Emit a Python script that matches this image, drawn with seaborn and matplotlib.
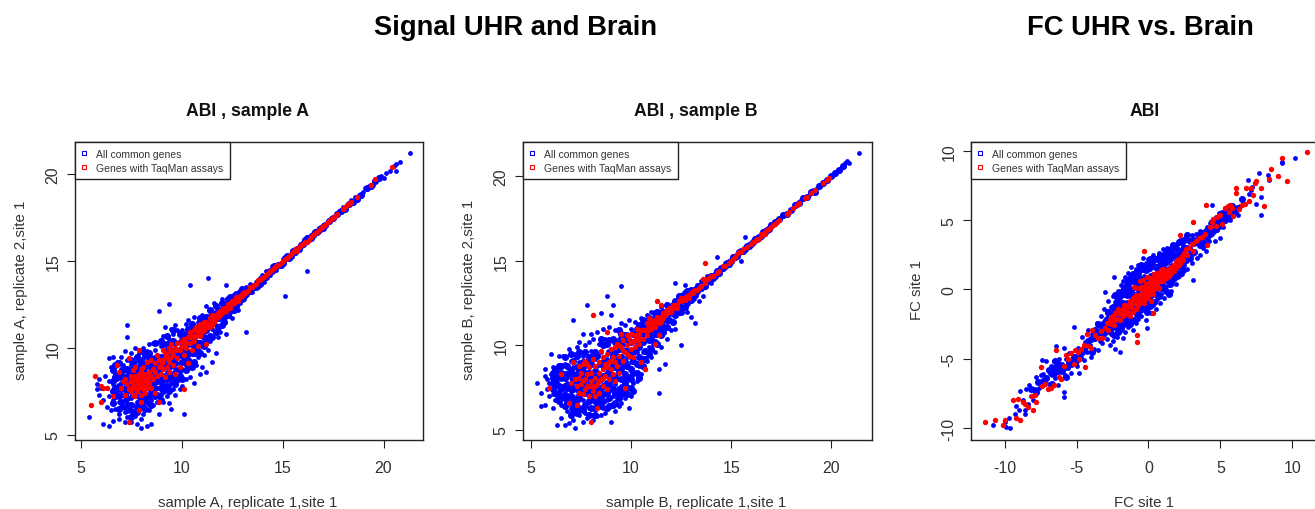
import matplotlib
matplotlib.use("Agg")
import matplotlib.pyplot as plt
from matplotlib.lines import Line2D
import seaborn as sns

A_BLUE_X = [5.4,5.8,5.8,5.9,5.9,6.0,6.1,6.1,6.2,6.3,6.3,6.4,
6.4,6.4,6.4,6.5,6.5,6.6,6.6,6.6,6.6,6.7,6.7,6.8,
6.8,6.8,6.9,6.9,6.9,7.0,7.0,7.0,7.0,7.0,7.1,7.1,
7.2,7.2,7.2,7.2,7.2,7.3,7.3,7.3,7.3,7.3,7.3,7.4,
7.4,7.5,7.5,7.5,7.5,7.5,7.5,7.6,7.6,7.7,7.7,7.7,
7.7,7.7,7.8,7.8,7.8,7.9,7.9,7.9,7.9,8.0,8.0,8.0,
8.0,8.0,8.1,8.1,8.1,8.1,8.2,8.2,8.2,8.3,8.3,8.3,
8.3,8.4,8.4,8.4,8.5,8.5,8.5,8.5,8.6,8.6,8.6,8.7,
8.7,8.7,8.8,8.8,8.8,8.9,8.9,8.9,8.9,9.0,9.0,9.0,
9.1,9.1,9.1,9.2,9.2,9.2,9.3,9.3,9.3,9.4,9.4,9.4,
9.5,9.5,9.5,9.6,9.6,9.6,9.7,9.7,9.7,9.8,9.8,9.8,
9.9,9.9,9.9,10.0,10.0,10.0,10.1,10.1,10.1,10.2,10.2,10.2,
10.3,10.3,10.4,10.4,10.4,10.5,10.5,10.6,10.6,10.6,10.7,10.7,
10.8,10.8,10.9,10.9,11.0,11.0,11.0,11.1,11.1,11.2,11.2,11.3,
11.3,11.4,11.4,11.5,11.5,11.6,11.7,11.7,11.8,11.8,11.9,12.0,
12.0,12.1,12.2,12.2,12.3,12.4,12.5,12.6,12.7,12.8,12.9,13.0,
13.1,13.2,13.2,13.3,13.4,13.5,13.6,13.7,13.8,13.9,14.0,14.1,
14.2,14.4,14.5,14.7,14.9,15.0,15.1,15.2,15.4,15.6,15.8,16.0,
16.2,16.2,16.4,16.6,16.8,17.0,17.2,17.4,17.6,17.8,18.0,18.2,
18.4,18.6,18.8,19.0,19.1,19.3,19.5,19.7,19.9,20.0,20.1,20.3,
20.5,20.6,20.6,20.8,21.3,
8.2,8.4,8.6,8.8,9.0,9.2,9.4,9.6,9.8,10.0,10.2,10.4]
A_BLUE_Y = [6.0,7.6,7.9,8.2,7.3,7.7,5.6,7.0,8.4,7.7,6.6,9.4,
8.1,7.2,5.5,8.9,6.4,9.5,7.9,7.0,5.8,8.5,6.5,9.2,
8.2,7.5,6.9,6.2,5.9,9.5,8.8,8.0,7.3,6.6,9.0,7.7,
5.7,6.3,7.0,8.4,9.8,11.3,10.6,9.3,8.0,6.8,6.0,7.5,
8.7,9.7,9.0,8.2,7.1,6.4,5.7,7.8,6.7,10.0,9.3,8.6,
7.4,6.1,5.6,8.0,6.9,9.7,9.0,7.6,6.4,5.4,5.9,6.7,
8.3,7.1,9.4,10.0,8.7,6.2,7.8,7.3,6.9,5.5,9.1,9.8,
8.2,6.4,7.6,10.2,7.0,8.6,9.5,5.6,10.3,6.7,7.4,8.0,
9.0,9.9,6.9,7.7,10.3,6.2,8.4,9.4,12.1,7.3,8.8,10.1,
6.9,8.0,10.7,7.6,9.2,11.2,7.2,8.6,9.9,12.5,6.8,10.5,
6.5,8.0,11.1,7.6,9.3,10.8,7.3,8.7,11.3,8.1,9.7,11.0,
7.6,9.1,10.4,7.8,8.8,11.0,6.2,9.4,10.1,8.2,9.0,11.4,
9.6,11.6,13.6,8.3,10.6,9.2,11.1,8.0,10.0,11.8,9.0,10.4,
9.5,11.5,8.5,10.8,8.9,10.1,11.9,9.6,11.2,8.6,12.4,14.0,
9.9,10.4,11.9,9.2,11.1,12.6,9.7,11.3,10.6,12.3,10.9,12.8,
11.6,12.1,13.6,10.8,12.2,12.6,11.7,12.4,12.9,12.2,12.6,13.2,
12.8,10.9,13.5,13.2,13.7,13.2,13.6,13.8,13.5,14.0,14.2,13.8,
14.4,14.2,14.7,14.5,14.9,15.1,13.0,15.1,15.4,15.6,15.8,16.1,
14.4,16.1,16.5,16.6,16.9,17.1,17.2,17.5,17.6,17.9,18.1,18.2,
18.5,18.7,18.8,19.0,19.2,19.3,19.4,19.7,19.9,19.8,20.1,20.2,
20.5,20.6,20.2,20.7,21.2,
8.6,9.0,8.5,9.2,7.9,9.9,7.8,8.4,8.8,9.6,10.5,9.8]
A_BLUE2_X = [6.6,6.7,6.6,6.7,6.6,6.7,6.6,6.7,
6.9,7.0,6.9,7.0,6.9,7.0,6.9,7.0,6.9,
7.2,7.3,7.2,7.3,7.2,7.3,7.2,7.3,7.2,7.3,
7.5,7.6,7.5,7.6,7.5,7.6,7.5,7.6,7.5,7.6,7.5,
7.8,7.9,7.8,7.9,7.8,7.9,7.8,7.9,7.8,7.9,7.8,
8.1,8.2,8.1,8.2,8.1,8.2,8.1,8.2,8.1,8.2,8.1,
8.4,8.5,8.4,8.5,8.4,8.5,8.4,8.5,8.4,8.5,8.4,
8.7,8.8,8.7,8.8,8.7,8.8,8.7,8.8,8.7,8.8,8.7,
9.0,9.1,9.0,9.1,9.0,9.1,9.0,9.1,9.0,9.1,9.0,
9.3,9.4,9.3,9.4,9.3,9.4,9.3,9.4,9.3,9.4,9.3,
9.6,9.7,9.6,9.7,9.6,9.7,9.6,9.7,9.6,9.7,9.6,
9.9,10.0,9.9,10.0,9.9,10.0,9.9,10.0,9.9,10.0,
10.2,10.3,10.2,10.3,10.2,10.3,10.2,10.3,10.2,10.3,
10.5,10.6,10.5,10.6,10.5,10.6,10.5,10.6,10.5,
10.8,10.9,10.8,10.9,10.8,10.9,10.8,10.9,
11.1,11.2,11.1,11.2,11.1,11.2,11.1,11.2,
11.4,11.5,11.4,11.5,11.4,11.5,11.4,
11.7,11.8,11.7,11.8,11.7,11.8,11.7,
12.0,12.1,12.0,12.1,12.0,12.1,12.0,
12.3,12.4,12.3,12.4,12.3,12.4,
12.6,12.7,12.6,12.7,12.6,12.7,
12.9,13.0,12.9,13.0,13.1,13.2,
13.3,13.4,13.5,13.6,13.7,13.8,
13.9,14.0,14.1,14.2,14.3,14.4,
14.5,14.6,14.7,14.8,14.9,15.0,
15.1,15.2,15.3,15.4,15.5,15.6,
15.7,15.8,15.9,16.0,16.1,16.2,
16.3,16.4,16.5,16.6,16.7,16.8,
16.9,17.0,17.1,17.3,17.5,17.7,
17.9,18.1,18.3,18.5,18.7,18.9,
19.2,19.4,19.6,19.8]
A_BLUE2_Y = [6.8,7.2,7.5,7.7,8.1,8.3,8.7,9.0,
6.5,6.9,7.2,7.6,7.8,8.3,8.5,8.6,9.1,
6.6,6.4,7.3,7.1,7.7,7.6,8.1,8.4,8.8,8.8,
6.7,6.3,7.5,7.3,7.9,8.2,8.6,8.8,9.3,9.1,6.0,
6.3,6.9,6.6,7.2,7.3,8.0,7.7,8.5,8.7,9.3,9.5,
6.6,6.5,7.2,7.1,7.5,8.2,8.3,8.9,9.1,9.6,9.8,
6.8,6.7,7.2,7.4,7.9,8.0,8.4,8.9,9.3,9.2,9.7,
7.2,7.3,7.7,8.1,8.4,8.7,8.7,9.0,9.4,9.5,10.3,
7.0,7.5,7.7,8.4,8.1,9.0,9.1,9.4,9.5,10.2,10.4,
7.8,7.5,8.2,8.3,9.0,8.9,9.5,9.6,10.2,10.0,10.7,
8.1,7.9,8.5,8.3,9.0,9.1,9.6,9.5,10.4,10.3,11.0,
8.4,8.2,8.7,9.2,9.6,10.0,9.9,10.3,10.8,10.7,
8.7,8.9,9.4,9.3,9.8,10.2,10.4,10.5,10.8,11.1,
8.9,9.2,9.7,9.7,10.2,10.3,10.7,10.9,11.4,
9.8,9.7,10.3,10.3,10.8,11.0,11.2,11.7,
10.1,10.4,10.6,11.0,11.0,11.3,11.5,11.8,
10.7,10.6,11.3,11.5,11.6,11.9,12.2,
10.9,11.2,11.7,11.7,12.0,12.0,12.4,
11.3,11.5,11.9,12.5,12.2,11.8,12.6,
11.9,12.1,12.5,12.3,12.8,12.9,
12.2,12.4,12.6,12.7,13.0,13.1,
12.9,12.8,13.2,13.4,13.0,13.1,
13.4,13.3,13.5,13.5,13.5,13.8,
13.7,14.0,14.1,14.1,14.3,14.4,
14.4,14.7,14.7,14.8,14.8,14.9,
15.2,15.3,15.2,15.3,15.6,15.5,
15.7,15.7,15.9,16.0,16.2,16.3,
16.3,16.3,16.5,16.7,16.7,16.8,
16.9,16.9,17.1,17.3,17.5,17.7,
17.9,18.0,18.3,18.4,18.6,18.8,
19.2,19.3,19.6,19.8]
A_RED_X = [5.5,5.7,6.0,6.0,6.1,6.3,6.6,6.8,6.9,7.0,
7.1,7.2,7.2,7.3,7.4,7.4,7.4,7.5,7.5,7.5,
7.6,7.6,7.6,7.7,7.7,7.7,7.7,7.8,7.8,7.8,
7.9,7.9,7.9,7.9,8.0,8.0,8.0,8.0,8.0,8.1,
8.1,8.1,8.2,8.2,8.2,8.3,8.3,8.3,8.4,8.4,
8.5,8.5,8.6,8.6,8.7,8.7,8.8,8.8,8.9,8.9,
9.0,9.0,9.1,9.1,9.2,9.2,9.3,9.3,9.4,9.4,
9.5,9.5,9.6,9.6,9.7,9.7,9.8,9.8,9.9,9.9,
10.0,10.1,10.1,10.1,10.2,10.3,10.3,10.4,10.4,10.5,
10.5,10.6,10.6,10.7,10.7,10.8,10.8,10.9,10.9,11.0,
11.1,11.1,11.2,11.2,11.3,11.4,11.4,11.5,11.5,11.6,
11.7,11.8,11.9,12.0,12.1,12.2,12.3,12.4,12.5,12.6,
12.7,12.8,12.9,13.0,13.1,13.2,13.4,13.6,13.8,14.0,
14.3,14.6,14.8,15.0,15.2,15.4,15.6,15.8,16.1,16.3,
16.5,16.7,17.0,17.3,17.4,17.6,18.0,18.1,18.3,18.7,
19.4,19.6,20.4,
7.5,7.7,7.9,8.1,8.3,7.6,7.8,8.0,8.2,8.4,
7.7,7.9,8.1,8.3,8.5,8.7,8.9,9.1,9.3,9.5,
9.0,9.2,9.4,9.6,9.8,10.0,10.2,10.4,10.6,10.8,
10.9,11.0,11.1,11.2,11.3,11.4,11.5,11.6,11.7,11.8,
11.9,12.0,12.1,12.2,12.3,12.4,12.5,12.6,12.7,12.8,
12.9,13.0,13.1,13.3,13.5,13.7,13.9,14.1,14.2,14.4,
14.5,14.7,14.9,15.1,15.3,15.5,15.7,15.9,16.0,16.2,
16.4,16.6,16.8,16.9,17.1,17.2,17.5,17.7,18.2,18.4]
A_RED_Y = [6.7,8.4,7.8,6.9,7.7,7.7,7.2,9.0,8.6,7.7,
8.1,7.3,8.2,7.9,5.7,7.6,9.4,7.7,8.1,8.4,
7.3,7.9,8.7,7.2,7.7,8.2,8.9,7.5,8.0,8.4,
6.4,7.7,8.2,9.9,7.3,7.9,8.4,8.7,6.9,7.6,
8.1,8.9,7.4,7.9,8.5,7.7,8.2,9.2,8.0,8.6,
7.7,9.3,8.2,8.8,7.4,9.1,8.4,9.6,6.9,8.9,
8.5,9.3,8.8,9.9,8.3,9.4,8.9,9.7,8.6,9.2,
9.8,10.2,9.0,9.6,8.5,10.0,9.4,10.3,8.9,9.9,
10.1,7.6,9.6,10.5,10.0,9.1,10.6,10.3,10.9,9.9,
10.7,10.4,11.0,10.7,11.2,10.1,11.0,10.7,11.4,10.9,
11.3,11.0,10.2,11.5,11.2,11.4,11.7,11.5,11.9,11.7,
11.9,11.8,12.1,12.2,12.3,12.3,12.5,12.5,12.7,12.7,
12.9,12.8,13.0,13.0,13.2,13.2,13.5,13.6,13.9,14.0,
14.3,14.6,14.8,15.0,15.2,15.4,15.7,15.8,16.1,16.2,
16.5,16.7,17.0,17.3,17.4,17.6,18.0,18.1,18.3,18.7,
19.4,19.7,20.4,
7.5,7.9,8.0,7.9,7.9,8.2,7.7,8.1,8.2,8.3,
8.4,8.5,8.5,8.5,8.4,8.6,9.3,9.2,9.4,9.5,
9.0,9.7,10.0,9.9,9.9,10.4,10.3,10.6,10.7,10.9,
11.1,11.2,11.5,11.2,11.4,11.2,11.3,11.5,11.7,12.0,
11.9,12.0,12.1,12.1,12.3,12.3,12.5,12.6,12.7,12.7,
12.9,13.1,13.1,13.3,13.5,13.7,13.9,14.1,14.2,14.4,
14.5,14.7,14.9,15.1,15.3,15.5,15.6,15.9,16.0,16.1,
16.4,16.6,16.8,16.9,17.1,17.2,17.5,17.7,18.2,18.4]

B_BLUE_X = [5.3,5.5,5.5,5.7,5.7,5.7,5.8,5.8,5.9,5.9,6.0,6.0,
6.1,6.1,6.1,6.2,6.2,6.2,6.3,6.3,6.3,6.3,6.4,6.4,
6.5,6.5,6.5,6.6,6.6,6.6,6.7,6.7,6.7,6.7,6.8,6.8,
6.9,6.9,6.9,6.9,7.0,7.0,7.0,7.0,7.1,7.1,7.1,7.1,
7.2,7.2,7.2,7.2,7.3,7.3,7.3,7.3,7.4,7.4,7.4,7.4,
7.5,7.5,7.5,7.6,7.6,7.6,7.6,7.7,7.7,7.7,7.8,7.8,
7.8,7.8,7.9,7.9,7.9,8.0,8.0,8.0,8.0,8.1,8.1,8.1,
8.2,8.2,8.2,8.3,8.3,8.3,8.4,8.4,8.4,8.5,8.5,8.5,
8.5,8.6,8.6,8.6,8.7,8.7,8.7,8.8,8.8,8.8,8.9,8.9,
9.0,9.0,9.0,9.0,9.1,9.1,9.1,9.2,9.2,9.2,9.3,9.3,
9.4,9.4,9.4,9.5,9.5,9.5,9.5,9.6,9.6,9.6,9.7,9.7,
9.8,9.8,9.8,9.9,9.9,9.9,10.0,10.0,10.0,10.1,10.1,10.2,
10.2,10.3,10.3,10.4,10.4,10.5,10.5,10.6,10.6,10.7,10.7,10.8,
10.8,10.9,10.9,11.0,11.0,11.1,11.1,11.2,11.3,11.3,11.4,11.4,
11.4,11.5,11.5,11.6,11.7,11.7,11.8,11.9,12.0,12.1,12.2,12.2,
12.3,12.4,12.5,12.5,12.6,12.7,12.8,12.9,13.0,13.1,13.2,13.2,
13.3,13.4,13.5,13.6,13.7,13.8,14.0,14.2,14.3,14.5,14.7,14.9,
15.1,15.3,15.5,15.5,15.7,15.7,15.9,16.1,16.3,16.5,16.7,16.9,
17.1,17.3,17.5,17.7,17.9,18.1,18.3,18.5,18.7,18.9,19.1,19.3,
19.5,19.7,19.9,20.1,20.3,20.5,20.7,20.8,20.9,21.4]
B_BLUE_Y = [7.8,7.2,6.4,6.5,8.6,8.2,8.0,7.4,7.8,7.0,9.5,8.3,
6.3,7.1,8.7,7.6,8.2,6.8,5.3,7.0,7.9,8.5,9.4,7.3,
5.7,6.5,8.0,6.9,7.6,9.4,5.3,7.2,8.4,8.9,6.1,7.8,
5.4,6.7,8.6,9.8,6.3,7.3,8.1,9.1,5.6,6.9,8.7,11.5,
5.1,6.1,7.5,9.5,6.5,7.0,8.3,9.9,5.9,7.7,9.0,10.2,
6.3,7.2,8.5,5.5,6.8,9.4,10.7,6.0,7.9,10.0,5.7,12.4,
7.4,9.1,6.3,8.5,10.2,5.9,6.9,9.7,10.7,5.6,8.1,10.4,
6.2,7.5,9.2,5.8,8.8,10.8,6.7,8.2,10.1,5.9,7.1,11.9,
9.6,6.3,8.7,11.0,6.0,7.6,10.4,6.8,9.2,12.9,7.3,11.1,
5.5,6.5,8.3,11.8,7.0,9.8,12.4,6.1,7.7,10.9,6.9,9.2,
6.4,8.0,10.4,6.6,7.6,11.3,13.5,8.8,10.0,7.2,6.9,11.2,
7.6,9.3,10.7,6.3,8.2,11.5,7.0,9.0,11.0,7.8,10.2,8.4,
11.4,7.9,9.6,8.8,10.7,8.3,11.6,9.6,11.2,8.6,10.3,9.1,
11.8,9.9,11.3,9.3,12.0,10.1,11.6,9.6,10.6,12.6,7.2,8.6,
11.1,9.9,12.3,11.2,8.9,11.7,10.4,12.3,10.9,12.2,11.0,13.7,
11.9,12.7,10.0,12.3,13.0,13.6,12.0,12.6,11.7,13.1,11.3,13.4,
13.6,12.6,13.8,12.9,13.7,14.1,13.7,14.3,15.2,14.5,14.9,15.0,
15.1,15.4,15.0,15.6,15.8,16.4,16.0,16.2,16.4,16.6,16.8,17.0,
17.2,17.4,17.6,17.8,17.9,18.1,18.3,18.6,18.7,18.9,19.2,19.3,
19.5,19.7,19.9,20.1,20.3,20.5,20.8,20.9,20.8,21.4]
B_BLUE2_X = [6.1,6.2,6.1,6.2,6.1,6.2,6.1,
6.4,6.5,6.4,6.5,6.4,6.5,6.4,6.5,6.4,
6.7,6.8,6.7,6.8,6.7,6.8,6.7,6.8,6.7,6.8,
7.0,7.1,7.0,7.1,7.0,7.1,7.0,7.1,7.0,7.1,7.0,7.1,
7.3,7.4,7.3,7.4,7.3,7.4,7.3,7.4,7.3,7.4,7.3,7.4,
7.6,7.7,7.6,7.7,7.6,7.7,7.6,7.7,7.6,7.7,7.6,7.7,
7.9,8.0,7.9,8.0,7.9,8.0,7.9,8.0,7.9,8.0,7.9,8.0,
8.2,8.3,8.2,8.3,8.2,8.3,8.2,8.3,8.2,8.3,8.2,8.3,
8.5,8.6,8.5,8.6,8.5,8.6,8.5,8.6,8.5,8.6,8.5,8.6,
8.8,8.9,8.8,8.9,8.8,8.9,8.8,8.9,8.8,8.9,8.8,8.9,
9.1,9.2,9.1,9.2,9.1,9.2,9.1,9.2,9.1,9.2,9.1,9.2,
9.4,9.5,9.4,9.5,9.4,9.5,9.4,9.5,9.4,9.5,9.4,9.5,
9.7,9.8,9.7,9.8,9.7,9.8,9.7,9.8,9.7,9.8,9.7,
10.0,10.1,10.0,10.1,10.0,10.1,10.0,10.1,10.0,10.1,
10.3,10.4,10.3,10.4,10.3,10.4,10.3,10.4,10.3,10.4,
10.6,10.7,10.6,10.7,10.6,10.7,10.6,10.7,10.6,
10.9,11.0,10.9,11.0,10.9,11.0,10.9,11.0,
11.2,11.3,11.2,11.3,11.2,11.3,11.2,11.3,
11.5,11.6,11.5,11.6,11.5,11.6,11.5,
11.8,11.9,11.8,11.9,11.8,11.9,11.8,
12.1,12.2,12.1,12.2,12.1,12.2,
12.4,12.5,12.4,12.5,12.4,12.5,
12.7,12.8,12.7,12.8,12.7,12.8,
13.0,13.1,13.0,13.2,13.3,13.4,
13.5,13.6,13.7,13.8,13.9,14.0,
14.1,14.2,14.3,14.4,14.5,14.6,
14.7,14.8,14.9,15.0,15.1,15.2,
15.3,15.4,15.5,15.6,15.7,15.8,
15.9,16.0,16.1,16.2,16.3,16.4,
16.5,16.6,16.7,16.8,16.9,17.0,
17.2,17.4,17.6,17.8,18.0,18.2,
18.4,18.6,18.8,19.0,19.2,19.4,
19.6,19.8,20.0,20.2,20.4,20.6]
B_BLUE2_Y = [7.4,7.2,7.8,7.9,8.1,8.6,8.4,
6.7,7.0,7.0,7.4,7.6,8.4,8.2,8.8,8.8,
6.4,6.6,6.9,7.0,7.6,7.5,8.1,8.3,9.3,8.8,
5.9,6.2,6.6,6.5,7.0,7.4,7.6,7.9,8.5,8.3,9.5,9.1,
6.0,6.3,6.8,6.9,7.5,7.3,7.9,8.2,8.7,8.5,9.4,9.6,
6.2,6.5,7.2,7.2,7.6,7.6,8.1,8.4,8.7,9.0,9.0,9.6,
5.9,6.3,6.7,7.3,7.1,7.7,7.6,8.2,8.0,8.9,9.3,9.3,
5.9,6.4,6.7,6.9,7.1,7.3,7.9,8.0,8.5,8.4,9.6,9.4,
6.4,6.7,6.8,7.1,7.5,7.6,8.0,8.2,8.9,9.0,10.4,10.0,
6.3,6.4,7.2,6.9,7.8,7.7,8.3,8.5,9.0,9.6,10.1,10.3,
6.5,6.6,7.4,7.2,8.0,8.2,8.8,8.7,9.3,9.6,10.4,10.2,
6.9,7.1,7.4,8.0,8.5,8.6,9.0,9.3,9.8,10.1,10.9,10.7,
7.3,7.1,7.8,8.1,8.3,8.8,9.0,9.7,9.7,10.3,10.6,
7.5,7.3,8.0,8.4,8.6,9.1,9.4,9.6,10.2,10.7,
8.4,8.1,8.9,9.3,9.9,9.9,10.4,10.2,11.0,11.2,
8.8,9.2,9.2,9.7,10.2,10.8,10.7,11.2,11.5,
9.5,9.8,10.3,10.4,10.7,10.8,11.6,11.5,
10.2,10.1,10.7,11.0,11.1,11.6,11.9,12.0,
10.6,10.8,11.0,11.5,11.6,12.0,11.9,
11.1,11.5,11.5,11.9,12.0,12.1,12.4,
11.4,11.8,11.9,12.2,12.4,12.6,
12.0,12.0,12.4,12.6,12.9,12.9,
12.3,12.5,12.7,12.8,13.1,13.2,
12.7,12.8,13.3,13.0,13.2,13.5,
13.4,13.5,13.5,13.8,13.8,14.1,
14.0,14.1,14.4,14.3,14.6,14.6,
14.7,14.9,14.8,15.0,15.2,15.2,
15.3,15.5,15.6,15.6,15.7,15.9,
15.9,16.0,16.1,16.3,16.3,16.4,
16.5,16.7,16.7,16.8,16.9,17.1,
17.3,17.5,17.7,17.8,18.0,18.3,
18.4,18.7,18.8,19.1,19.1,19.4,
19.6,19.8,20.0,20.2,20.4,20.6]
B_RED_X = [5.9,6.5,6.9,7.0,7.1,7.2,7.3,7.3,7.4,7.4,
7.5,7.5,7.6,7.6,7.7,7.7,7.7,7.8,7.8,7.9,
7.9,8.0,8.0,8.0,8.1,8.1,8.1,8.2,8.2,8.2,
8.3,8.3,8.4,8.4,8.4,8.5,8.5,8.6,8.6,8.6,
8.7,8.7,8.8,8.8,8.8,8.9,8.9,9.0,9.0,9.1,
9.1,9.2,9.2,9.3,9.3,9.4,9.4,9.5,9.5,9.6,
9.6,9.7,9.7,9.8,9.8,9.9,9.9,10.0,10.0,10.1,
10.1,10.2,10.2,10.3,10.3,10.4,10.4,10.5,10.5,10.6,
10.7,10.7,10.8,10.8,10.9,10.9,11.0,11.0,11.1,11.2,
11.2,11.3,11.3,11.4,11.4,11.5,11.5,11.6,11.7,11.8,
11.9,12.0,12.1,12.2,12.3,12.4,12.5,12.6,12.7,12.8,
12.9,13.0,13.1,13.2,13.4,13.6,13.7,13.8,14.0,14.3,
14.6,14.9,15.1,15.3,15.6,16.0,16.3,16.5,16.6,16.7,
16.9,17.1,17.4,17.8,18.1,18.4,18.7,19.0,19.2,19.6,
19.8,19.9,
7.4,7.6,7.8,8.0,8.2,8.4,8.6,8.8,9.0,9.2,
9.4,9.6,9.8,10.0,10.2,10.4,10.6,10.8,10.9,11.0,
11.1,11.2,11.3,11.4,11.5,11.6,11.7,11.8,11.9,12.0,
12.1,12.3,12.5,12.7,12.9,13.1,13.3,13.5,13.7,13.9,
14.1,14.4,14.7,15.0,15.2,15.4,15.5,15.8,16.1,16.2,
16.4,16.5,16.7,16.8,17.0,17.2,17.3,17.9,18.3,18.8]
B_RED_Y = [7.5,8.3,6.6,7.8,9.0,8.0,6.5,7.6,8.8,7.2,
7.7,8.4,7.1,8.9,7.4,8.0,9.1,7.6,8.3,7.0,
8.7,5.5,7.9,8.4,7.3,9.2,11.8,8.1,8.8,7.0,
6.3,7.7,8.4,9.0,7.2,8.0,9.7,8.6,7.6,9.3,
8.2,8.9,7.4,9.5,10.8,8.0,9.0,8.6,9.8,8.3,
9.3,7.9,9.9,8.8,10.1,9.4,8.4,9.9,10.7,9.1,
10.3,9.6,7.5,10.0,10.6,9.4,10.4,9.8,10.7,10.2,
9.3,10.6,9.9,10.3,11.0,10.1,10.7,9.0,10.9,10.4,
8.6,10.9,11.3,10.6,10.9,11.6,11.0,11.5,11.2,10.1,
11.4,11.4,12.6,10.6,11.6,11.7,12.4,11.9,12.0,12.1,
12.0,12.2,12.2,12.4,12.4,12.6,12.6,12.8,12.8,12.9,
13.0,13.1,13.2,13.3,13.4,13.9,14.9,13.9,14.1,14.3,
14.7,14.9,15.1,15.4,15.7,16.0,16.3,16.5,16.6,16.7,
16.9,17.1,17.4,17.8,18.1,18.4,18.7,19.0,19.2,19.6,
19.8,19.9,
8.1,7.9,8.9,7.6,7.6,7.9,8.1,8.7,9.1,9.0,
10.0,9.7,9.5,10.2,10.3,10.4,10.9,11.0,11.2,11.2,
11.5,11.1,11.7,11.3,11.4,11.6,11.8,11.9,12.2,12.0,
12.4,12.2,12.8,12.7,12.8,13.1,13.3,13.5,13.7,14.0,
14.1,14.4,14.7,15.0,15.2,15.5,15.5,15.8,16.1,16.2,
16.3,16.6,16.6,16.8,17.0,17.2,17.3,17.9,18.3,18.8]

C_BLUE_X = [-10.8,-10.0,-9.9,-9.7,-9.6,-9.3,-9.2,-9.0,-8.9,-8.7,-8.6,-8.6,
-8.5,-8.4,-8.3,-8.2,-8.0,-7.9,-7.8,-7.6,-7.5,-7.4,-7.4,-7.3,
-7.2,-7.1,-7.0,-6.9,-6.8,-6.7,-6.6,-6.5,-6.4,-6.4,-6.3,-6.2,
-6.1,-6.0,-5.9,-5.9,-5.9,-5.8,-5.7,-5.6,-5.5,-5.4,-5.3,-5.2,
-5.1,-5.0,-4.9,-4.8,-4.7,-4.6,-4.5,-4.4,-4.3,-4.2,-4.1,-4.0,
-3.9,-3.8,-3.7,-3.6,-3.5,-3.5,-3.4,-3.3,-3.2,-3.2,-3.1,-3.1,
-3.0,-3.0,-2.9,-2.9,-2.8,-2.8,-2.7,-2.7,-2.6,-2.6,-2.5,-2.5,
-2.4,-2.4,-2.3,-2.3,-2.3,-2.2,-2.2,-2.1,-2.1,-2.0,-2.0,-2.0,
-1.9,-1.9,-1.8,-1.8,-1.8,-1.7,-1.7,-1.6,-1.6,-1.6,-1.5,-1.5,
-1.4,-1.4,-1.4,-1.3,-1.3,-1.2,-1.2,-1.2,-1.1,-1.1,-1.0,-1.0,
-0.9,-0.9,-0.9,-0.8,-0.8,-0.7,-0.7,-0.7,-0.6,-0.6,-0.5,-0.5,
-0.4,-0.4,-0.3,-0.3,-0.3,-0.2,-0.2,-0.1,-0.1,0.0,0.0,0.0,
0.1,0.1,0.2,0.2,0.3,0.3,0.3,0.4,0.4,0.5,0.5,0.5,
0.6,0.6,0.7,0.7,0.8,0.8,0.8,0.9,0.9,1.0,1.0,1.0,
1.1,1.1,1.2,1.2,1.3,1.3,1.3,1.4,1.4,1.5,1.5,1.6,
1.6,1.7,1.7,1.8,1.8,1.9,1.9,2.0,2.0,2.1,2.1,2.2,
2.2,2.3,2.4,2.4,2.5,2.6,2.6,2.7,2.8,2.8,2.9,3.0,
3.0,3.1,3.1,3.2,3.3,3.4,3.5,3.6,3.6,3.7,3.8,3.9,
4.0,4.1,4.2,4.3,4.4,4.4,4.5,4.6,4.7,4.8,4.9,5.0,
5.1,5.2,5.3,5.5,5.6,5.7,5.8,6.0,6.2,6.4,6.6,6.9,
7.0,7.1,7.2,7.5,7.7,7.8,7.8,8.3,8.4,9.3,9.3,10.2]
C_BLUE_Y = [-9.8,-9.6,-9.9,-9.3,-10.0,-9.0,-8.4,-8.7,-7.3,-8.0,-9.0,-8.7,
-7.2,-8.3,-6.9,-7.7,-8.0,-7.2,-6.3,-7.1,-6.2,-5.1,-6.9,-6.1,
-6.6,-5.2,-5.8,-6.8,-5.5,-6.2,-5.2,-6.4,-5.7,-4.1,-6.9,-5.0,
-6.5,-5.4,-7.4,-7.8,-4.2,-6.2,-5.0,-5.7,-4.6,-6.0,-5.2,-2.7,
-4.8,-5.5,-4.2,-6.0,-4.9,-3.4,-5.1,-3.8,-4.5,-2.9,-4.0,-4.9,
-3.2,-4.3,-3.6,-2.4,-3.0,-4.4,-3.7,-1.9,-2.6,-3.9,-3.3,-1.4,
-0.2,-2.2,-3.6,-1.7,-3.0,-0.8,-4.0,-2.4,-1.3,-3.2,-0.5,-3.7,
0.9,-2.0,-4.3,-2.8,-0.9,-3.4,-1.6,-0.1,-2.4,-4.5,-3.0,-1.1,
-2.0,0.3,-3.5,-1.4,0.6,-2.6,-0.4,-3.1,-1.8,0.9,-2.3,-0.9,
-2.7,-1.4,1.2,-0.5,0.5,-2.2,-1.0,1.6,-2.9,0.1,-1.6,1.0,
-2.4,-0.6,1.5,-1.2,0.3,-2.1,-0.2,1.8,-1.0,0.9,-1.9,1.4,
0.4,2.3,-1.5,-0.5,1.0,-2.2,1.9,-2.8,0.3,-1.3,0.9,2.2,
-0.7,1.5,-1.7,0.4,-1.1,1.1,2.5,-0.3,1.8,-1.4,0.6,2.3,
-0.7,1.4,0.1,2.6,-1.0,0.9,1.9,-0.3,2.4,0.3,1.3,2.9,
-0.6,1.8,0.6,2.8,-0.2,1.3,3.0,0.3,2.1,1.0,2.9,-0.1,
1.8,0.7,2.6,1.3,3.1,0.4,2.2,1.6,3.3,1.0,2.7,2.0,
3.6,1.1,2.4,3.2,1.8,2.9,3.8,1.5,2.3,3.5,3.0,1.9,
3.9,0.7,2.6,3.3,4.0,2.3,3.2,2.5,4.2,3.5,3.0,3.9,
2.8,4.5,3.5,4.8,4.0,6.1,4.9,3.5,5.2,4.3,5.5,3.7,
5.1,4.5,5.9,5.3,6.0,5.0,5.5,5.8,5.4,6.0,6.2,7.9,
6.9,7.2,7.4,6.2,8.4,6.7,5.4,8.3,7.9,9.1,9.2,9.5]
C_BLUE2_X = [-6.8,-6.6,-6.5,-6.3,-6.2,-6.0,-5.8,-5.7,-5.5,-5.4,
-5.2,-5.1,-4.9,-4.8,-4.6,-4.5,-4.3,-4.2,-4.0,-3.9,
-3.8,-3.7,-3.6,-3.5,-3.4,-3.3,-3.2,-3.1,-3.0,-3.0,
-2.9,-2.8,-2.8,-2.7,-2.7,-2.6,-2.6,-2.5,-2.5,-2.4,-2.4,-2.4,
-2.3,-2.3,-2.2,-2.2,-2.2,-2.1,-2.1,-2.1,-2.0,-2.0,-2.0,-2.0,
-1.9,-1.9,-1.9,-1.8,-1.8,-1.8,-1.7,-1.7,-1.7,-1.6,-1.6,-1.6,
-1.5,-1.5,-1.5,-1.4,-1.4,-1.4,-1.3,-1.3,-1.3,-1.2,-1.2,-1.2,
-1.1,-1.1,-1.1,-1.0,-1.0,-1.0,-0.9,-0.9,-0.9,-0.8,-0.8,-0.8,
-0.7,-0.7,-0.7,-0.6,-0.6,-0.6,-0.5,-0.5,-0.5,-0.4,-0.4,-0.4,
-0.3,-0.3,-0.2,-0.2,-0.2,-0.1,-0.1,-0.1,0.0,0.0,0.0,0.1,
0.1,0.1,0.2,0.2,0.2,0.3,0.3,0.4,0.4,0.4,0.5,0.5,
0.6,0.6,0.6,0.7,0.7,0.7,0.8,0.8,0.9,0.9,0.9,1.0,
1.0,1.1,1.1,1.1,1.2,1.2,1.2,1.3,1.3,1.4,1.4,1.4,
1.5,1.5,1.6,1.6,1.6,1.7,1.7,1.8,1.8,1.9,1.9,2.0,
2.0,2.1,2.1,2.2,2.2,2.3,2.3,2.4,2.4,2.5,2.5,2.6,
2.7,2.7,2.8,2.9,2.9,3.0,3.1,3.2,3.3,3.4,3.5,3.6,
3.7,3.8,3.9,4.0,4.1,4.2,4.3,4.4,4.5,4.6,4.7,4.8,
4.9,5.0,5.1,5.2,5.3,5.4,5.5,5.6,5.8,6.0,6.2,6.5,
-8.2,-7.8,-7.7,-7.3,-7.1,-6.9,-6.7,-6.6,-6.3,-6.1]
C_BLUE2_Y = [-6.0,-6.0,-5.2,-5.9,-5.8,-5.9,-5.6,-6.3,-5.3,-5.4,
-4.9,-5.3,-5.0,-4.5,-4.5,-4.3,-4.0,-3.7,-3.6,-4.5,
-3.5,-2.9,-3.2,-2.5,-2.6,-3.1,-3.0,-2.4,-3.1,-2.7,
-2.1,-1.6,-2.5,-1.9,-3.0,-1.8,-2.7,-1.3,-2.2,-1.6,-2.5,-3.3,
-0.4,-1.9,-0.8,-1.2,-2.6,-0.7,-1.6,-3.1,-0.5,-1.7,-2.1,-2.6,
-0.2,-1.0,-2.8,-0.3,-1.0,-2.2,0.1,-1.2,-2.0,-0.2,-1.2,-2.4,
0.3,-0.4,-1.7,0.7,-0.2,-2.1,0.0,-1.2,-2.5,0.9,-0.1,-1.5,
1.1,-0.4,-1.2,0.6,-0.4,-2.2,0.9,0.2,-1.1,1.3,-0.5,-1.8,
1.2,0.4,-1.4,1.5,0.2,-1.5,1.8,0.6,-0.8,1.5,-0.3,-1.1,
1.7,0.4,1.4,0.6,-1.4,1.5,-0.6,-1.6,1.6,0.3,-0.8,2.2,
0.5,-1.2,2.0,1.0,-0.4,1.7,0.3,2.2,0.9,-0.9,1.6,-0.3,
2.2,0.7,-0.3,1.7,0.9,-0.5,2.5,0.3,1.7,1.0,0.1,2.2,
0.8,2.5,1.2,0.2,2.0,1.4,-0.1,2.4,0.7,2.7,1.5,-0.3,
2.2,0.4,2.9,1.3,0.5,3.2,1.6,2.5,0.8,3.0,1.2,2.5,
1.0,3.4,1.7,2.8,1.2,3.5,1.9,1.4,2.9,3.6,2.4,2.1,
3.9,3.0,2.9,3.5,2.3,2.6,3.6,2.7,3.4,3.6,3.9,3.2,
4.1,3.7,3.3,4.2,3.8,4.4,4.0,4.9,4.2,4.7,4.4,5.0,
4.6,4.9,5.5,5.3,5.0,5.5,5.8,5.2,6.0,5.6,5.9,6.5,
-7.2,-7.4,-6.7,-6.6,-6.4,-5.8,-6.8,-5.7,-5.4,-5.6]
C_RED_X = [-11.4,-10.7,-10.1,-10.0,-9.4,-9.2,-8.9,-9.1,-8.7,-8.6,
-8.4,-8.0,-8.1,-7.9,-7.8,-7.5,-7.4,-7.2,-7.0,-6.8,
-6.6,-6.4,-6.2,-6.1,-5.9,-5.7,-5.6,-5.4,-5.2,-5.1,
-4.9,-4.8,-4.7,-4.5,-4.4,-4.3,-4.2,-4.0,-3.9,-3.7,
-3.5,-3.3,-3.2,-3.0,-2.9,-2.8,-2.7,-2.6,-2.5,-2.4,
-2.3,-2.2,-2.1,-2.0,-1.9,-1.8,-1.7,-1.6,-1.5,-1.4,
-1.3,-1.3,-1.2,-1.1,-1.1,-1.0,-1.0,-0.9,-0.8,-0.8,
-0.9,-0.8,-0.7,-0.7,-0.6,-0.6,-0.5,-0.5,-0.4,-0.4,
-0.3,-0.3,-0.3,-0.2,-0.2,-0.1,-0.1,0.0,0.0,0.1,
0.1,0.2,0.2,0.3,0.3,0.3,0.4,0.4,0.5,0.5,
0.6,0.7,0.7,0.8,0.9,0.9,1.0,1.0,1.1,1.2,
1.3,1.4,1.5,1.6,1.7,1.8,1.9,2.0,2.1,2.2,
2.2,2.3,2.4,2.5,2.6,2.7,2.8,3.0,3.1,3.1,
3.3,3.5,3.7,3.9,4.0,4.1,4.3,4.4,4.5,4.7,
4.8,5.0,5.1,5.3,5.5,5.6,5.7,5.8,5.9,6.1,
6.1,6.3,6.5,6.7,6.8,7.0,7.1,7.3,7.4,7.5,
7.8,8.0,8.5,8.4,9.0,9.3,9.6,11.0,
-2.6,-2.4,-2.2,-2.0,-1.8,-1.6,-1.4,-1.2,-1.0,-0.8,
-0.7,-0.6,-0.5,-0.4,-0.3,-0.2,-0.1,0.0,0.1,0.2,
0.3,0.4,0.5,0.6,0.7,0.8,0.9,1.0,1.1,1.2,
1.3,1.4,1.5,1.6,1.7,1.8,1.9,2.0,2.1,2.3,
-1.1,-0.9,-0.7,-0.5,-0.3,-0.1,0.1,0.3,0.5,0.7,
-0.6,-0.4,-0.2,0.0,0.2,0.4,0.6,0.8,1.0,1.2]
C_RED_Y = [-9.6,-9.4,-9.8,-9.4,-8.0,-9.3,-9.4,-7.9,-8.1,-8.3,
-8.5,-8.7,-7.7,-7.6,-8.1,-5.6,-7.0,-6.8,-7.2,-7.1,
-6.9,-4.4,-6.3,-6.5,-5.5,-4.7,-5.0,-4.6,-5.4,-4.4,
-4.5,-5.0,-4.3,-4.0,-5.6,-3.2,-4.1,-4.2,-2.9,-3.3,
-3.5,-3.0,-3.5,-2.8,-2.4,-2.9,-2.2,-2.5,-1.9,-2.6,
-1.7,-2.1,-1.4,-2.2,-1.6,-1.9,-1.1,-1.8,-1.3,-1.6,
-0.8,-1.9,-1.3,-0.6,-1.6,-1.0,0.2,-0.4,-3.3,-3.8,
-1.4,-0.8,0.1,-1.1,-0.4,0.6,-0.9,0.2,-0.5,0.7,
2.8,-0.2,-1.0,0.4,-0.6,0.0,0.9,-0.5,0.5,-0.1,
0.8,0.3,-0.8,-1.7,0.0,0.7,0.5,1.1,0.1,0.8,
0.4,0.9,0.1,1.2,0.6,1.4,0.9,1.5,1.2,0.8,
1.4,1.0,1.5,1.2,1.7,1.3,2.0,1.7,2.2,3.9,
1.9,2.4,2.1,2.6,2.9,2.5,3.0,3.3,4.9,2.8,
3.5,3.7,3.8,4.0,6.1,3.2,4.5,4.9,5.1,4.6,
5.2,5.4,4.7,5.9,6.0,5.6,6.1,5.9,5.3,7.0,
7.3,5.8,6.1,6.2,7.3,6.4,7.3,6.8,7.7,7.8,
7.3,6.0,8.7,8.0,8.2,9.5,7.8,9.9,
-2.0,-2.2,-1.7,-1.8,-1.4,-1.4,-1.1,-0.9,-0.7,-1.1,
-0.5,-0.8,-0.3,-0.2,-0.4,0.0,-0.3,0.2,0.3,0.6,
0.3,0.2,0.5,0.8,0.6,0.7,1.0,1.1,0.8,1.3,
1.0,1.5,1.2,1.6,1.4,1.8,1.6,2.1,1.8,2.1,
-0.9,-0.8,-0.8,-0.5,-0.7,-0.6,-0.3,-0.3,0.4,1.1,
0.1,0.2,0.2,0.1,0.1,0.8,1.2,1.0,0.6,1.1]

LEGEND_LABELS = ["All common genes", "Genes with TaqMan assays"]

W, H = 1315, 510
sns.set_style("white")
plt.rcParams['font.family'] = ['Liberation Sans', 'DejaVu Sans']
plt.rcParams['axes.unicode_minus'] = False
fig = plt.figure(figsize=(W/100, H/100), dpi=100)

INK = '#222222'

def panel(box, xlim, ylim, xt, yt, bx, by, b2x, b2y, rx, ry, title, xlabel, ylabel, tx, tlx, lx):
    l, t, r, b = box
    ax = fig.add_axes([l/W, 1-b/H, (r-l)/W, (b-t)/H])
    sns.scatterplot(x=bx, y=by, color='#0000ff', s=12, linewidth=0, ax=ax, legend=False)
    sns.scatterplot(x=b2x, y=b2y, color='#0000ff', s=26, linewidth=0, ax=ax, legend=False)
    sns.scatterplot(x=rx, y=ry, color='#ff0000', s=15, linewidth=0, ax=ax, legend=False)
    ax.set_xlim(*xlim)
    ax.set_ylim(*ylim)
    ax.set_xticks(xt)
    ax.set_yticks(yt)
    ax.tick_params(axis='both', length=5.5, width=0.8, color=INK, labelcolor='#333333',
                   labelsize=11.5, bottom=True, left=True)
    ax.tick_params(axis='x', pad=9)
    ax.tick_params(axis='y', pad=5)
    plt.setp(ax.get_yticklabels(), rotation=90, va='center')
    for s in ax.spines.values():
        s.set_color(INK)
        s.set_linewidth(1.0)
    ax.set_xlabel("")
    ax.set_ylabel("")
    fig.text(tlx/W, 1-111.5/H, title, ha='center', va='center', fontsize=12.7, fontweight='bold', color='#111111')
    fig.text(lx/W, 1-503.5/H, xlabel, ha='center', va='center', fontsize=10.8, color='#333333')
    fig.text(tx/W, 1-290/H, ylabel, ha='center', va='center', rotation=90, fontsize=10.8, color='#333333')
    handles = [Line2D([], [], linestyle='', marker='s', markersize=2.8, markerfacecolor='white',
                      markeredgecolor='#0000ff', markeredgewidth=0.8, label=LEGEND_LABELS[0]),
               Line2D([], [], linestyle='', marker='s', markersize=2.8, markerfacecolor='white',
                      markeredgecolor='#ff0000', markeredgewidth=0.8, label=LEGEND_LABELS[1])]
    leg = ax.legend(handles=handles, loc='upper left', borderaxespad=0, fontsize=7.5, frameon=True,
                    fancybox=False, framealpha=1, edgecolor=INK, handletextpad=1.05,
                    handlelength=0.3, labelspacing=0.35, borderpad=0.65,
                    labelcolor='#333333')
    leg.get_frame().set_linewidth(1.0)
    return ax

panel((75.3, 143.3, 423.3, 441), (4.74, 21.97), (4.69, 21.84), [5, 10, 15, 20], [5, 10, 15, 20],
      A_BLUE_X, A_BLUE_Y, A_BLUE2_X, A_BLUE2_Y, A_RED_X, A_RED_Y, "ABI , sample A",
      "sample A, replicate 1,site 1", "sample A, replicate 2,site 1", 21, 248, 248)
panel((523.3, 143.3, 872.3, 441), (4.62, 22.05), (4.41, 22.01), [5, 10, 15, 20], [5, 10, 15, 20],
      B_BLUE_X, B_BLUE_Y, B_BLUE2_X, B_BLUE2_Y, B_RED_X, B_RED_Y, "ABI , sample B",
      "sample B, replicate 1,site 1", "sample B, replicate 2,site 1", 469, 696, 696)
panel((971.3, 143.3, 1319.3, 441), (-12.32, 11.88), (-10.87, 10.63), [-10, -5, 0, 5, 10], [-10, -5, 0, 5, 10],
      C_BLUE_X, C_BLUE_Y, C_BLUE2_X, C_BLUE2_Y, C_RED_X, C_RED_Y, "ABI",
      "FC site 1", "FC site 1", 917, 1145, 1144)

fig.text(516/W, 1-28/H, "Signal UHR and Brain", ha='center', va='center', fontsize=19.7, fontweight='bold', color='black')
fig.text(1140/W, 1-28/H, "FC UHR vs. Brain", ha='center', va='center', fontsize=19.7, fontweight='bold', color='black')

fig.savefig("out.png", dpi=100, facecolor='white')
